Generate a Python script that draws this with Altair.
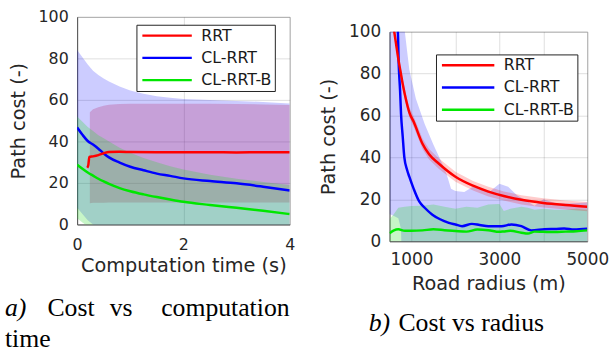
import altair as alt
import pandas as pd

names = ["RRT", "CL-RRT", "CL-RRT-B"]
line_colors = ["#ff0000", "#0000ff", "#00e600"]

# ---------------- panel a: cost vs computation time ----------------
t_a = [0, 0.1, 0.2, 0.3, 0.4, 0.5, 0.6, 0.8, 1.0, 1.25, 1.5, 1.75, 2.0, 2.5, 3.0, 3.5, 4.0]
a_blue_mean = [46.7, 43.2, 40.2, 38.5, 36.5, 34.2, 32.3, 29.8, 27.8, 26.1, 24.5, 23.4, 22.2, 20.9, 19.8, 18.2, 16.4]
a_blue_hi = [84, 80.5, 77, 74, 72, 70.3, 68.8, 66.5, 64.5, 63, 61.8, 61, 60.4, 60, 59.5, 59, 58.3]
a_blue_lo = [8, 5, 2, 0, -2, -3, -3, -3, -3, -3, -3, -3, -3, -3, -3, -3, -3]
a_green_mean = [28.8, 26.8, 25.0, 23.5, 22.0, 20.7, 19.5, 17.5, 16.0, 14.5, 13.2, 12.0, 10.9, 9.4, 8.0, 6.6, 5.0]
a_green_hi = [52, 49.5, 47, 45, 43, 41.5, 40, 37, 34.5, 32, 30, 28, 26.5, 24, 22, 20.5, 19]
a_green_lo = [3, 1, -1, -3, -3, -3, -3, -3, -3, -3, -3, -3, -3, -3, -3, -3, -3]
t_a_rrt = [0.19, 0.21, 0.23, 0.3, 0.4, 0.5, 0.6, 0.8, 1.0, 1.5, 2.0, 2.5, 3.0, 3.5, 4.0]
a_rrt_mean = [27.3, 28.5, 32.5, 32.8, 33.4, 34.3, 34.9, 35.0, 34.9, 34.8, 34.8, 34.8, 34.7, 34.8, 34.8]
t_a_rrt_band = [0.24, 0.3, 0.4, 0.5, 0.6, 0.8, 1.0, 1.5, 2.0, 2.5, 3.0, 3.5, 4.0]
a_rrt_hi = [54, 55.5, 56.5, 57.2, 57.6, 58, 58.1, 58.2, 58.2, 58.1, 58, 57.8, 57.5]
a_rrt_lo = [10.2, 10.4, 10.5, 10.5, 10.6, 10.6, 10.6, 10.6, 10.6, 10.6, 10.6, 10.6, 10.6]

# ---------------- panel b: cost vs road radius ----------------
r_red = [600, 650, 700, 750, 800, 875, 950, 1050, 1250, 1400, 1625, 2000, 2400, 2750, 3100, 3500, 4000, 4500, 5000]
b_red_mean = [101, 94, 87, 81, 75, 67.5, 61.5, 57, 46.5, 41.5, 37, 30.8, 26.5, 23.7, 21.6, 19.8, 18.3, 17.3, 16.5]
b_red_hi = [103.5, 96.5, 89.5, 83.5, 77.5, 70, 64, 59.5, 49, 44, 39.5, 33.2, 28.8, 26, 23.8, 22, 20.5, 19.5, 18.7]
b_red_lo = [98.5, 91.5, 84.5, 78.5, 72.5, 65, 59, 54.5, 44, 39, 34.5, 28.4, 24.2, 21.4, 19.4, 17.6, 16.1, 15.1, 14.3]

r_blue = [650, 690, 710, 740, 762, 800, 837, 900, 950, 1050, 1175, 1300, 1475, 1650, 1850, 2000, 2150,
          2375, 2550, 2750, 3050, 3275, 3500, 3725, 4025, 4300, 4475, 4700, 5000]
b_blue_mean = [110, 100, 84, 72, 60.7, 50, 40, 34, 30.8, 25, 19, 16, 12.7, 10.5, 8.8, 8, 7.2,
               8.3, 7.8, 7.2, 7.2, 8, 7.2, 5.2, 5.7, 5.9, 6.1, 5.6, 6]
r_blue_band = [500, 600, 700, 760, 775, 837, 950, 1100, 1300, 1500, 1700, 1800, 1900, 2000, 2200, 2400,
               2600, 2800, 3000, 3200, 3400, 3600, 3800, 4000, 4300, 4600, 5000]
b_blue_hi = [130, 130, 130, 130, 125, 102, 82, 68, 56, 46, 37, 32, 25, 24, 23.5, 26,
             25, 24, 27.5, 26, 22, 19.5, 17, 20, 18, 18, 18.5]
b_blue_lo = [13, 12, 11, 6, -5, -5, -5, -5, -5, -5, -5, -5, -5, -5, -5, -5,
             -5, -5, -5, -5, -5, -5, -5, -5, -5, -5, -5]

r_green = [500, 600, 700, 850, 1000, 1250, 1500, 1750, 2000, 2250, 2500, 2750, 3000, 3100, 3250, 3500,
           3650, 3800, 4000, 4250, 4500, 4750, 5000]
b_green_mean = [3.8, 5.2, 5.7, 5.0, 5.0, 5.2, 5.7, 5.3, 4.9, 4.6, 5.6, 5.3, 4.5, 4.7, 5.0, 4.1,
                3.7, 4.6, 4.5, 4.4, 4.6, 4.8, 5.2]
b_green_hi = [10.5, 13, 16, 16.5, 16.8, 17, 17.5, 16.5, 15.5, 16.5, 16, 17.5, 17.8, 14.5, 15.5, 16.5,
              16, 15, 15.5, 15, 15, 15.5, 15]
b_green_lo = [-3, -3, -3, -3, -3, -3, -3, -3, -3, -3, -3, -3, -3, -3, -3, -3,
              -3, -3, -3, -3, -3, -3, -3]


def lines_df(parts):
    frames = []
    for name, xs, ys in parts:
        frames.append(pd.DataFrame({"x": xs, "y": ys, "method": name}))
    return pd.concat(frames, ignore_index=True)


def band_df(xs, lo, hi):
    return pd.DataFrame({"x": xs, "lo": lo, "hi": hi})


dummy = pd.DataFrame({"k": [0]})

AXIS_FONT = "DejaVu Sans"
SERIF = "Liberation Serif"


def anchor(x, y, align):
    return alt.Chart(dummy).mark_text(text=".", fontSize=1, opacity=0, align=align,
                                      baseline="top").encode(x=alt.value(x), y=alt.value(y))


def word(txt, x, y, italic=False):
    kw = dict(text=txt, font=SERIF, fontSize=26, align="left", baseline="alphabetic", color="#000000")
    if italic:
        kw["fontStyle"] = "italic"
    return alt.Chart(dummy).mark_text(**kw).encode(x=alt.value(x), y=alt.value(y))


def make_legend(lx, ly, sym):
    return alt.Legend(title=None, orient="none", legendX=lx, legendY=ly, direction="vertical",
                      symbolType="stroke", symbolSize=sym * sym, symbolStrokeWidth=2.5,
                      clipHeight=16, rowPadding=6.5, padding=3, symbolOffset=1.5, labelOffset=8,
                      labelFontSize=16, labelFont=AXIS_FONT, labelColor="#1a1a1a",
                      strokeColor="#222222", fillColor="#ffffff", cornerRadius=0)


# ---- panel a
xa = alt.X("x:Q", scale=alt.Scale(domain=[0, 4], nice=False),
           axis=alt.Axis(values=[0, 2, 4], title="Computation time (s)", labelFontSize=16,
                         labelPadding=12, titlePadding=5, labelFlush=False))
ya_axis = alt.Axis(values=[0, 20, 40, 60, 80, 100], title="Path cost (-)", labelFontSize=16,
                   labelPadding=9, titlePadding=10)
ya_scale = alt.Scale(domain=[0, 100], nice=False)

a_bands = [
    (band_df(t_a, a_blue_lo, a_blue_hi), "#0000ff", 0.2),
    (band_df(t_a_rrt_band, a_rrt_lo, a_rrt_hi), "#b4286e", 0.27),
    (band_df(t_a, a_green_lo, a_green_hi), "#20dd20", 0.25),
]
a_layers = []
for df, col, op in a_bands:
    a_layers.append(alt.Chart(df).mark_area(color=col, opacity=op, clip=True).encode(
        x=xa, y=alt.Y("lo:Q", scale=ya_scale, axis=ya_axis), y2="hi:Q"))

a_lines = lines_df([("CL-RRT", t_a, a_blue_mean), ("CL-RRT-B", t_a, a_green_mean),
                    ("RRT", t_a_rrt, a_rrt_mean)])
a_layers.append(alt.Chart(a_lines).mark_line(strokeWidth=2.5, interpolate="monotone", clip=True).encode(
    x=xa, y=alt.Y("y:Q", scale=ya_scale, axis=ya_axis),
    color=alt.Color("method:N", scale=alt.Scale(domain=names, range=line_colors),
                    legend=make_legend(60, 8, 50)),
    order=alt.Order("x:Q")))

a_layers += [
    anchor(-77, -14, "left"),
    anchor(223, 0, "right"),
    word("a)", -73, 303, italic=True),
    word("Cost", -30, 303),
    word("vs", 33, 303),
    word("computation", 85, 303),
    word("time", -73, 334),
]
left = alt.layer(*a_layers).properties(width=215, height=210)

# ---- panel b
xb = alt.X("x:Q", scale=alt.Scale(domain=[500, 5000], nice=False),
           axis=alt.Axis(values=[1000, 2000, 3000, 4000, 5000], format="d",
                         labelExpr="datum.value % 2000 == 1000 ? datum.label : ''",
                         title="Road radius (m)", labelFontSize=17, labelPadding=11, titlePadding=7,
                         labelFlush=False, labelBound=False))
yb_axis = alt.Axis(values=[0, 20, 40, 60, 80, 100], title="Path cost (-)", labelFontSize=17,
                   labelPadding=9, titlePadding=10)
yb_scale = alt.Scale(domain=[0, 100], nice=False)

b_bands = [
    (band_df(r_blue_band, b_blue_lo, b_blue_hi), "#0000ff", 0.2),
    (band_df(r_green, b_green_lo, b_green_hi), "#20dd20", 0.25),
    (band_df(r_red, b_red_lo, b_red_hi), "#ff0000", 0.2),
]
b_layers = []
for df, col, op in b_bands:
    b_layers.append(alt.Chart(df).mark_area(color=col, opacity=op, clip=True).encode(
        x=xb, y=alt.Y("lo:Q", scale=yb_scale, axis=yb_axis), y2="hi:Q"))

b_lines = lines_df([("CL-RRT", r_blue, b_blue_mean), ("CL-RRT-B", r_green, b_green_mean),
                    ("RRT", r_red, b_red_mean)])
b_layers.append(alt.Chart(b_lines).mark_line(strokeWidth=2.5, interpolate="monotone", clip=True).encode(
    x=xb, y=alt.Y("y:Q", scale=yb_scale, axis=yb_axis),
    color=alt.Color("method:N", scale=alt.Scale(domain=names, range=line_colors),
                    legend=make_legend(47, 23, 53)),
    order=alt.Order("x:Q")))

b_layers += [
    anchor(-91, -10, "left"),
    word("b)", -21, 303, italic=True),
    word("Cost vs radius", 9, 303),
]
right = alt.layer(*b_layers).properties(width=200, height=212)

# small empty spacer above panel b so that its plot sits lower than panel a's
spacer = alt.Chart(dummy).mark_rule(opacity=0).encode(
    x=alt.value(0), y=alt.value(0), y2=alt.value(4)
).properties(width=1, height=4, view=alt.ViewBackground(strokeOpacity=0, strokeWidth=0))

right_col = alt.vconcat(spacer, right, spacing=0).resolve_scale(
    color="independent").resolve_legend(color="independent")

chart = alt.hconcat(left, right_col, spacing=0).resolve_scale(
    color="independent").resolve_legend(color="independent").properties(
    padding=0).configure_view(stroke="#bdbdbd", strokeWidth=1).configure_axis(
    labelFont=AXIS_FONT, titleFont=AXIS_FONT, labelColor="#262626", titleColor="#262626",
    titleFontWeight="normal", titleFontSize=19.5, gridColor="#000000", gridOpacity=0.13,
    domainColor="#555555", ticks=False, tickSize=0, zindex=1)

chart.save("out.html", embed_options={"renderer": "svg", "actions": False})
